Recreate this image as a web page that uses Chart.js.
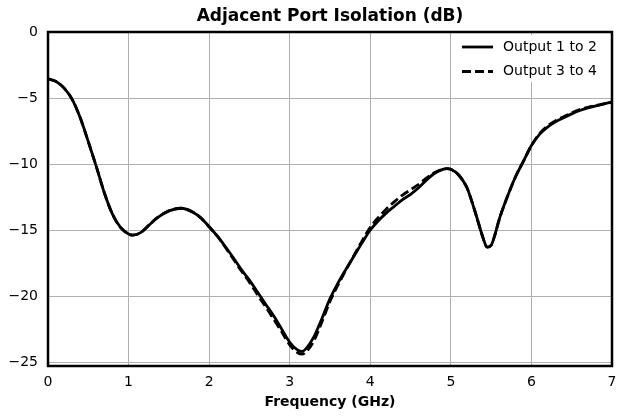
<!DOCTYPE html>
<html>
<head>
<meta charset="utf-8">
<script src="https://cdn.jsdelivr.net/npm/chart.js@4.4.0/dist/chart.umd.min.js"></script>
<style>
  html, body { margin: 0; padding: 0; background: #fff; }
  #wrap { width: 618px; height: 418px; }
</style>
</head>
<body>
<div id="wrap"><canvas id="c" width="618" height="418"></canvas></div>
<script>
const chartTitle = 'Adjacent Port Isolation (dB)';
const xTitle = 'Frequency (GHz)';
const seriesNames = ['Output 1 to 2', 'Output 3 to 4'];
const xTicks = [0, 1, 2, 3, 4, 5, 6, 7];
const yTicks = [0, -5, -10, -15, -20, -25];

const freq = [0.0, 0.1, 0.2, 0.3, 0.4, 0.5, 0.6, 0.7, 0.8, 0.9, 1.0, 1.05, 1.15, 1.25, 1.35, 1.5, 1.65, 1.8, 1.9, 2.0,
  2.1, 2.2, 2.3, 2.4, 2.5, 2.6, 2.7, 2.8, 2.9, 3.0, 3.1, 3.15, 3.2, 3.3, 3.4, 3.5, 3.6, 3.7, 3.8, 3.9,
  4.0, 4.1, 4.2, 4.3, 4.4, 4.5, 4.6, 4.7, 4.8, 4.9, 4.95, 5.0, 5.1, 5.2, 5.3, 5.4, 5.45, 5.5, 5.55, 5.6,
  5.7, 5.8, 5.9, 6.0, 6.1, 6.2, 6.3, 6.4, 6.5, 6.6, 6.7, 6.8, 6.9, 7.0];

const out12 = [-3.55, -3.75, -4.25, -5.1, -6.5, -8.3, -10.2, -12.2, -13.8, -14.8, -15.3, -15.38, -15.2, -14.65, -14.1, -13.55, -13.35, -13.65, -14.1, -14.75,
  -15.45, -16.25, -17.1, -18.0, -18.8, -19.7, -20.6, -21.5, -22.5, -23.5, -24.1, -24.2, -24.0, -23.1, -21.7, -20.2, -19.0, -17.95, -16.95, -15.95,
  -15.0, -14.3, -13.7, -13.2, -12.7, -12.3, -11.8, -11.2, -10.7, -10.4, -10.35, -10.4, -10.85, -11.8, -13.6, -15.6, -16.3, -16.15, -15.3, -14.2,
  -12.5, -11.0, -9.8, -8.6, -7.75, -7.2, -6.8, -6.5, -6.2, -5.95, -5.75, -5.6, -5.45, -5.3];

const out34 = [-3.55, -3.75, -4.25, -5.1, -6.5, -8.3, -10.2, -12.2, -13.8, -14.8, -15.3, -15.38, -15.2, -14.65, -14.1, -13.55, -13.35, -13.65, -14.1, -14.75,
  -15.45, -16.3, -17.2, -18.1, -18.95, -19.9, -20.8, -21.75, -22.7, -23.7, -24.3, -24.4, -24.25, -23.4, -21.95, -20.4, -19.15, -18.0, -16.9, -15.8,
  -14.8, -14.05, -13.4, -12.85, -12.35, -11.95, -11.55, -11.05, -10.65, -10.4, -10.35, -10.4, -10.85, -11.8, -13.6, -15.6, -16.3, -16.15, -15.3, -14.2,
  -12.5, -11.0, -9.8, -8.6, -7.7, -7.12, -6.72, -6.42, -6.13, -5.88, -5.7, -5.56, -5.45, -5.33];

const FONT = 'DejaVu Sans';

const framePlugin = {
  id: 'frame',
  afterDatasetsDraw(chart) {
    const { ctx, chartArea: a } = chart;
    ctx.save();
    ctx.strokeStyle = '#000';
    ctx.lineWidth = 2.5;
    ctx.strokeRect(a.left, a.top, a.right - a.left, a.bottom - a.top);
    ctx.restore();
  }
};

const legendPlugin = {
  id: 'customLegend',
  afterDraw(chart) {
    const { ctx, chartArea: a } = chart;
    const x0 = a.right - 157, y0 = a.top + 3;
    ctx.save();
    ctx.fillStyle = 'rgba(255,255,255,0.9)';
    ctx.fillRect(x0, y0, 151, 47);
    chart.data.datasets.forEach((ds, i) => {
      const y = a.top + 15 + i * 24.5;
      ctx.strokeStyle = ds.borderColor;
      ctx.lineWidth = ds.borderWidth;
      ctx.setLineDash(ds.borderDash || []);
      ctx.beginPath();
      ctx.moveTo(x0 + 7, y);
      ctx.lineTo(x0 + 38, y);
      ctx.stroke();
      ctx.setLineDash([]);
      ctx.fillStyle = '#000';
      ctx.font = '14px "' + FONT + '"';
      ctx.textBaseline = 'middle';
      ctx.textAlign = 'left';
      ctx.fillText(ds.label, x0 + 48, y);
    });
    ctx.restore();
  }
};

new Chart(document.getElementById('c'), {
  type: 'line',
  data: {
    datasets: [
      {
        label: seriesNames[0],
        data: freq.map((f, i) => ({ x: f, y: out12[i] })),
        borderColor: '#000',
        borderWidth: 2.8,
        pointRadius: 0,
        cubicInterpolationMode: 'monotone',
        fill: false
      },
      {
        label: seriesNames[1],
        data: freq.map((f, i) => ({ x: f, y: out34[i] })),
        borderColor: '#000',
        borderWidth: 2.8,
        borderDash: [9, 4],
        pointRadius: 0,
        cubicInterpolationMode: 'monotone',
        fill: false
      }
    ]
  },
  options: {
    responsive: false,
    animation: false,
    devicePixelRatio: 1,
    layout: { padding: { left: 0, right: 6, top: 0, bottom: 0 } },
    plugins: {
      legend: { display: false },
      tooltip: { enabled: false },
      title: {
        display: true,
        text: chartTitle,
        fullSize: false,
        color: '#000',
        font: { family: FONT, size: 17, weight: 'bold', lineHeight: 1.1 },
        padding: { top: 7, bottom: 6.3 }
      }
    },
    scales: {
      x: {
        type: 'linear',
        min: 0,
        max: 7,
        afterFit(scale) { scale.height = 52; scale.paddingLeft = 0; scale.paddingRight = 0; },
        afterBuildTicks(scale) { scale.ticks = xTicks.map(v => ({ value: v })); },
        grid: { color: '#b0b0b0', lineWidth: 1, drawTicks: false },
        border: { display: false },
        ticks: {
          color: '#000',
          padding: 8,
          maxRotation: 0,
          font: { family: FONT, size: 14 },
          callback: v => String(v)
        },
        title: {
          display: true,
          text: xTitle,
          color: '#000',
          font: { family: FONT, size: 14, weight: 'bold' },
          padding: { top: 0, bottom: 7 }
        }
      },
      y: {
        type: 'linear',
        min: -25.3,
        max: 0,
        afterFit(scale) { scale.width = 48; scale.paddingTop = 0; scale.paddingBottom = 0; },
        afterBuildTicks(scale) { scale.ticks = yTicks.map(v => ({ value: v })); },
        grid: { color: '#b0b0b0', lineWidth: 1, drawTicks: false },
        border: { display: false },
        ticks: {
          color: '#000',
          padding: 10,
          font: { family: FONT, size: 14 },
          callback: v => (v < 0 ? '\u2212' + Math.abs(v) : String(v))
        }
      }
    }
  },
  plugins: [framePlugin, legendPlugin]
});
</script>
</body>
</html>
